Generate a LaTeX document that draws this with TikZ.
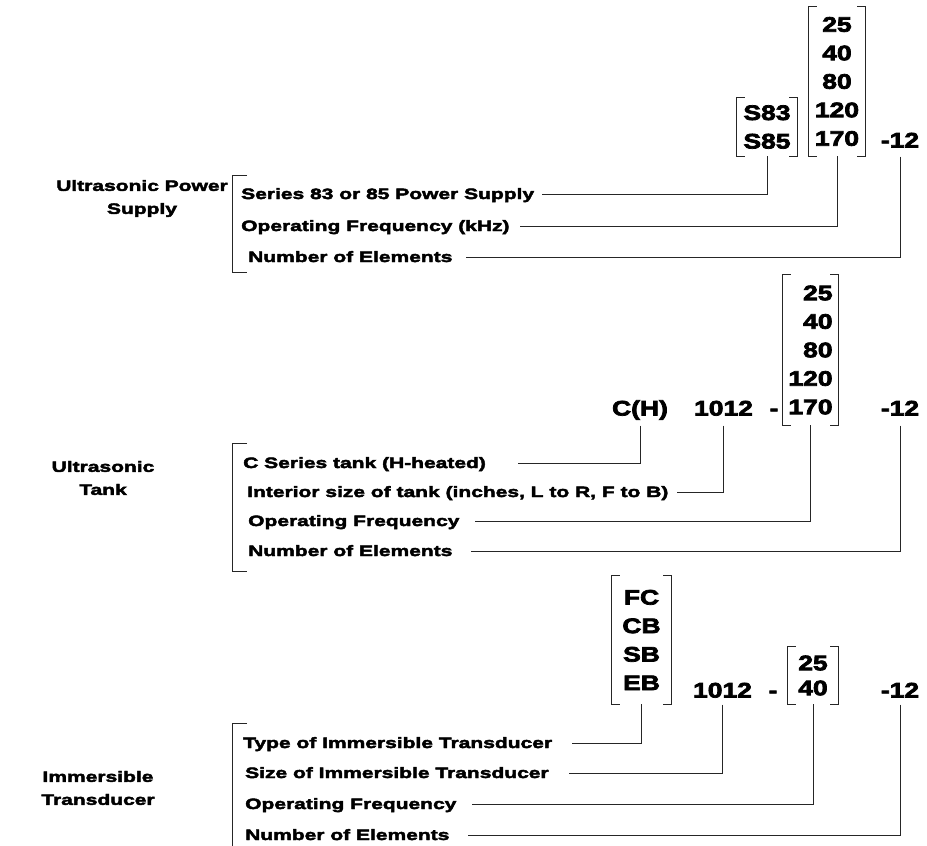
\documentclass[tikz,border=0pt]{standalone}
\usepackage{fontspec}
\newfontfamily\blk[FakeStretch=1.26,FakeBold=3.5]{Liberation Sans}
\newfontfamily\blkd[FakeStretch=1.4,FakeBold=3]{Liberation Sans}
\tikzset{
  >=latex,
}
\tikzstyle{codetxt}=[font=\blk\bfseries\fontsize{21}{28.5}\selectfont,inner sep=0pt,align=center]
\tikzstyle{desc}=[font=\blkd\bfseries\fontsize{15}{18}\selectfont,inner sep=0pt,anchor=base west,text height=11pt,text depth=1pt]
\tikzstyle{title}=[font=\blkd\bfseries\fontsize{15}{23}\selectfont,inner sep=0pt,align=center]
\tikzstyle{lead}=[line width=0.8pt,black!85]
\newcommand\brak[1]{\draw[lead] ([xshift=8pt]#1.north west) -- (#1.north west) -- (#1.south west) -- ([xshift=8pt]#1.south west)
  ([xshift=-8pt]#1.north east) -- (#1.north east) -- (#1.south east) -- ([xshift=-8pt]#1.south east);}
\begin{document}
\begin{tikzpicture}[x=1pt,y=-1pt]
    \useasboundingbox (0,0) rectangle (927,846);

    \node[title] (tsup) at (142,198.5) {Ultrasonic Power\\Supply};
    \node[codetxt,minimum width=60,minimum height=58] (series) at (767,127) {S83\\S85};
    \node[codetxt,minimum width=56,minimum height=149] (freqa) at (837,81.5) {25\\40\\80\\120\\170};
    \node[codetxt,anchor=base,text depth=9pt] (numa) at (900,147.5) {-12};
    \brak{series} \brak{freqa}
    \node[desc] (da1) at (241,199) {Series 83 or 85 Power Supply};
    \node[desc] (da2) at (241,231) {Operating Frequency (kHz)};
    \node[desc] (da3) at (248,262) {Number of Elements};
    \draw[lead] (series.south) |- ([xshift=8pt]da1.east);
    \draw[lead] (freqa.south) |- ([xshift=10pt]da2.east);
    \draw[lead] (numa.south) |- ([xshift=13pt]da3.east);
    \draw[lead] (247,175) -- (232,175) -- (232,272) -- (247,272);

    \node[title] (ttank) at (103,478) {Ultrasonic\\Tank};
    \node[codetxt,align=right,minimum width=55,minimum height=150] (freqb) at (810.5,350) {25\\40\\80\\120\\170};
    \node[codetxt,anchor=base,text depth=10pt] (tank) at (640,415.5) {C(H)};
    \node[codetxt,anchor=base,text depth=10pt] (sizeb) at (723.5,415.5) {1012};
    \node[codetxt,anchor=base] (dashb) at (774,415.5) {-};
    \node[codetxt,anchor=base,text depth=10pt] (numb) at (900,415.5) {-12};
    \brak{freqb}
    \node[desc] (db1) at (243,468) {C Series tank (H-heated)};
    \node[desc] (db2) at (247,497) {Interior size of tank (inches, L to R, F to B)};
    \node[desc] (db3) at (248,526) {Operating Frequency};
    \node[desc] (db4) at (248,556) {Number of Elements};
    \draw[lead] (tank.south) |- ([xshift=32pt]db1.east);
    \draw[lead] (sizeb.south) |- ([xshift=8pt]db2.east);
    \draw[lead] (freqb.south) |- ([xshift=15pt]db3.east);
    \draw[lead] (numb.south) |- ([xshift=18pt]db4.east);
    \draw[lead] (247,443) -- (232,443) -- (232,571) -- (247,571);

    \node[title] (ttrans) at (98,788) {Immersible\\Transducer};
    \node[codetxt,minimum width=59,minimum height=128] (typec) at (641.5,640) {FC\\CB\\SB\\EB};
    \node[codetxt,anchor=base,text depth=7pt] (sizec) at (722.5,697.5) {1012};
    \node[codetxt,anchor=base] (dashc) at (773,697.5) {-};
    \node[codetxt,minimum width=50,minimum height=57] (freqc) at (813,675.5) {25\\[-3.5pt]40};
    \node[codetxt,anchor=base,text depth=7pt] (numc) at (900,697.5) {-12};
    \brak{typec} \brak{freqc}
    \node[desc] (dc1) at (243,748) {Type of Immersible Transducer};
    \node[desc] (dc2) at (245,778) {Size of Immersible Transducer};
    \node[desc] (dc3) at (245,809) {Operating Frequency};
    \node[desc] (dc4) at (245,840) {Number of Elements};
    \draw[lead] (typec.south) |- ([xshift=20pt]dc1.east);
    \draw[lead] (sizec.south) |- ([xshift=20pt]dc2.east);
    \draw[lead] (freqc.south) |- ([xshift=15pt]dc3.east);
    \draw[lead] (numc.south) |- ([xshift=18pt]dc4.east);
    \draw[lead] (247,723) -- (232,723) -- (232,846);
  \end{tikzpicture}
\end{document}
